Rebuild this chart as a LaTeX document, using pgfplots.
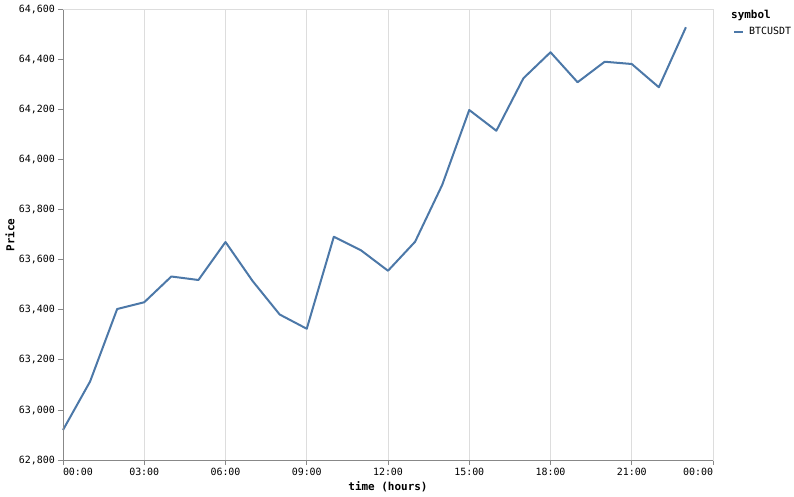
\documentclass[border=0pt]{standalone}
\usepackage{pgfplots}
\pgfplotsset{compat=1.18}
\usepackage{fontspec}
\setmainfont{DejaVu Sans Mono}
\definecolor{vblue}{HTML}{4C78A8}
\definecolor{domc}{HTML}{888888}
\definecolor{gridc}{HTML}{DDDDDD}
\begin{document}
\begin{tikzpicture}
\path[use as bounding box] (-63bp,-37bp) rectangle (731bp,460bp);
\begin{axis}[
    at={(0,0)}, anchor=south west, scale only axis,
    width=650bp, height=450bp,
    xmin=0, xmax=24, ymin=62800, ymax=64600,
    clip=false,
    scaled y ticks=false,
    xtick={0,3,6,9,12,15,18,21,24},
    xticklabels={\rlap{00:00},03:00,06:00,09:00,12:00,15:00,18:00,21:00,\llap{00:00}},
    ytick={62800,63000,63200,63400,63600,63800,64000,64200,64400,64600},
    /pgf/number format/.cd, fixed, precision=0, 1000 sep={,}, assume math mode=true,
    /pgfplots/.cd,
    tick pos=left, tick align=outside, major tick length=5bp,
    every tick/.style={domc, line width=1bp},
    axis line style={gridc, line width=1bp},
    xmajorgrids, grid style={gridc, line width=1bp},
    tick label style={font=\fontsize{10}{12}\selectfont, inner sep=0pt},
    yticklabel style={xshift=-3bp},
    xticklabel style={yshift=-3bp},
    xlabel={\bfseries time (hours)},
    ylabel={\bfseries Price},
    xlabel style={at={(axis description cs:0.5,-0.06)}, anchor=center, font=\fontsize{11}{13}\selectfont},
    ylabel style={at={(axis description cs:-0.0815,0.5)}, anchor=center, font=\fontsize{11}{13}\selectfont},
    legend style={at={(rel axis cs:1,1)}, anchor=north west, xshift=20bp, yshift=-17.4bp,
        draw=none, fill=none, inner sep=0pt, nodes={inner sep=0pt},
        font=\fontsize{10}{12}\selectfont, cells={anchor=west}},
    legend image code/.code={\draw[#1, line width=2bp] (0bp,0bp) -- (9bp,0bp);},
]
\addplot[vblue, line width=2bp, line join=round, mark=none] coordinates {
    (0,62920) (1,63114) (2,63404) (3,63431) (4,63534) (5,63520)
    (6,63672) (7,63516) (8,63382) (9,63325) (10,63693) (11,63639)
    (12,63557) (13,63673) (14,63900) (15,64200) (16,64117) (17,64327)
    (18,64431) (19,64311) (20,64393) (21,64384) (22,64291) (23,64531)
};
\addlegendentry{\hspace{5bp}BTCUSDT}
\draw[domc, line width=1bp] (rel axis cs:0,1) -- (rel axis cs:0,0) -- (rel axis cs:1,0);
\node[anchor=base west, inner sep=0pt, font=\fontsize{11}{13}\selectfont\bfseries]
    at (rel axis cs:1,1) [xshift=18bp, yshift=-9bp] {symbol};
\end{axis}
\end{tikzpicture}
\end{document}
